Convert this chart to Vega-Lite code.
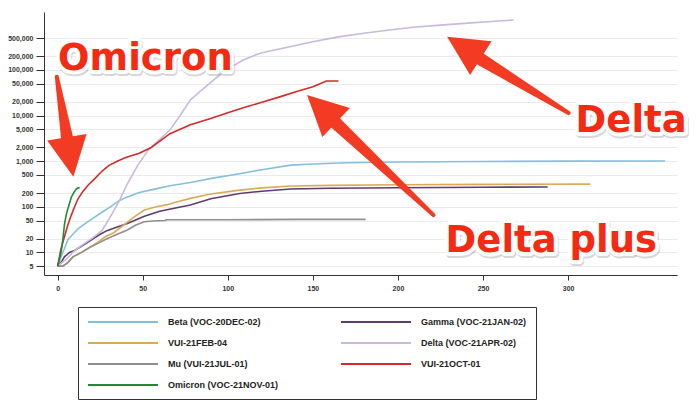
{
  "$schema": "https://vega.github.io/schema/vega-lite/v6.json",
  "width": 633,
  "height": 263,
  "autosize": {"type": "none"},
  "padding": {"left": 44, "top": 12, "right": 23, "bottom": 129},
  "background": "white",
  "config": {"view": {"stroke": null}, "font": "Liberation Sans"},
  "datasets": {
    "cases": [
      {"variant": "Beta (VOC-20DEC-02)", "day": 0, "cases": 5},
      {"variant": "Beta (VOC-20DEC-02)", "day": 2, "cases": 8},
      {"variant": "Beta (VOC-20DEC-02)", "day": 4, "cases": 12},
      {"variant": "Beta (VOC-20DEC-02)", "day": 6, "cases": 19},
      {"variant": "Beta (VOC-20DEC-02)", "day": 9, "cases": 25},
      {"variant": "Beta (VOC-20DEC-02)", "day": 12, "cases": 33},
      {"variant": "Beta (VOC-20DEC-02)", "day": 17, "cases": 45},
      {"variant": "Beta (VOC-20DEC-02)", "day": 22, "cases": 60},
      {"variant": "Beta (VOC-20DEC-02)", "day": 27, "cases": 80},
      {"variant": "Beta (VOC-20DEC-02)", "day": 31, "cases": 100},
      {"variant": "Beta (VOC-20DEC-02)", "day": 36, "cases": 135},
      {"variant": "Beta (VOC-20DEC-02)", "day": 41, "cases": 165},
      {"variant": "Beta (VOC-20DEC-02)", "day": 48, "cases": 205},
      {"variant": "Beta (VOC-20DEC-02)", "day": 55, "cases": 235},
      {"variant": "Beta (VOC-20DEC-02)", "day": 66, "cases": 290},
      {"variant": "Beta (VOC-20DEC-02)", "day": 78, "cases": 340},
      {"variant": "Beta (VOC-20DEC-02)", "day": 92, "cases": 430},
      {"variant": "Beta (VOC-20DEC-02)", "day": 107, "cases": 530},
      {"variant": "Beta (VOC-20DEC-02)", "day": 120, "cases": 650},
      {"variant": "Beta (VOC-20DEC-02)", "day": 137, "cases": 820},
      {"variant": "Beta (VOC-20DEC-02)", "day": 150, "cases": 870},
      {"variant": "Beta (VOC-20DEC-02)", "day": 170, "cases": 920},
      {"variant": "Beta (VOC-20DEC-02)", "day": 200, "cases": 960},
      {"variant": "Beta (VOC-20DEC-02)", "day": 250, "cases": 985},
      {"variant": "Beta (VOC-20DEC-02)", "day": 300, "cases": 1000},
      {"variant": "Beta (VOC-20DEC-02)", "day": 357, "cases": 1010},

      {"variant": "Gamma (VOC-21JAN-02)", "day": 0, "cases": 5},
      {"variant": "Gamma (VOC-21JAN-02)", "day": 2, "cases": 6},
      {"variant": "Gamma (VOC-21JAN-02)", "day": 4, "cases": 8},
      {"variant": "Gamma (VOC-21JAN-02)", "day": 7, "cases": 10},
      {"variant": "Gamma (VOC-21JAN-02)", "day": 10, "cases": 11},
      {"variant": "Gamma (VOC-21JAN-02)", "day": 13, "cases": 13},
      {"variant": "Gamma (VOC-21JAN-02)", "day": 17, "cases": 16},
      {"variant": "Gamma (VOC-21JAN-02)", "day": 21, "cases": 20},
      {"variant": "Gamma (VOC-21JAN-02)", "day": 25, "cases": 25},
      {"variant": "Gamma (VOC-21JAN-02)", "day": 29, "cases": 30},
      {"variant": "Gamma (VOC-21JAN-02)", "day": 33, "cases": 34},
      {"variant": "Gamma (VOC-21JAN-02)", "day": 41, "cases": 43},
      {"variant": "Gamma (VOC-21JAN-02)", "day": 51, "cases": 62},
      {"variant": "Gamma (VOC-21JAN-02)", "day": 60, "cases": 80},
      {"variant": "Gamma (VOC-21JAN-02)", "day": 70, "cases": 95},
      {"variant": "Gamma (VOC-21JAN-02)", "day": 78, "cases": 109},
      {"variant": "Gamma (VOC-21JAN-02)", "day": 90, "cases": 150},
      {"variant": "Gamma (VOC-21JAN-02)", "day": 107, "cases": 196},
      {"variant": "Gamma (VOC-21JAN-02)", "day": 120, "cases": 220},
      {"variant": "Gamma (VOC-21JAN-02)", "day": 137, "cases": 245},
      {"variant": "Gamma (VOC-21JAN-02)", "day": 160, "cases": 255},
      {"variant": "Gamma (VOC-21JAN-02)", "day": 200, "cases": 262},
      {"variant": "Gamma (VOC-21JAN-02)", "day": 250, "cases": 268},
      {"variant": "Gamma (VOC-21JAN-02)", "day": 288, "cases": 272},

      {"variant": "VUI-21FEB-04", "day": 0, "cases": 5},
      {"variant": "VUI-21FEB-04", "day": 3, "cases": 5},
      {"variant": "VUI-21FEB-04", "day": 6, "cases": 6},
      {"variant": "VUI-21FEB-04", "day": 9, "cases": 8},
      {"variant": "VUI-21FEB-04", "day": 14, "cases": 10},
      {"variant": "VUI-21FEB-04", "day": 19, "cases": 13},
      {"variant": "VUI-21FEB-04", "day": 24, "cases": 17},
      {"variant": "VUI-21FEB-04", "day": 28, "cases": 22},
      {"variant": "VUI-21FEB-04", "day": 33, "cases": 27},
      {"variant": "VUI-21FEB-04", "day": 39, "cases": 40},
      {"variant": "VUI-21FEB-04", "day": 45, "cases": 60},
      {"variant": "VUI-21FEB-04", "day": 51, "cases": 85},
      {"variant": "VUI-21FEB-04", "day": 58, "cases": 100},
      {"variant": "VUI-21FEB-04", "day": 64, "cases": 110},
      {"variant": "VUI-21FEB-04", "day": 71, "cases": 130},
      {"variant": "VUI-21FEB-04", "day": 78, "cases": 153},
      {"variant": "VUI-21FEB-04", "day": 90, "cases": 190},
      {"variant": "VUI-21FEB-04", "day": 107, "cases": 232},
      {"variant": "VUI-21FEB-04", "day": 120, "cases": 260},
      {"variant": "VUI-21FEB-04", "day": 137, "cases": 285},
      {"variant": "VUI-21FEB-04", "day": 160, "cases": 295},
      {"variant": "VUI-21FEB-04", "day": 200, "cases": 305},
      {"variant": "VUI-21FEB-04", "day": 250, "cases": 310},
      {"variant": "VUI-21FEB-04", "day": 313, "cases": 314},

      {"variant": "Delta (VOC-21APR-02)", "day": 0, "cases": 5},
      {"variant": "Delta (VOC-21APR-02)", "day": 5, "cases": 7},
      {"variant": "Delta (VOC-21APR-02)", "day": 10, "cases": 11},
      {"variant": "Delta (VOC-21APR-02)", "day": 15, "cases": 15},
      {"variant": "Delta (VOC-21APR-02)", "day": 20, "cases": 20},
      {"variant": "Delta (VOC-21APR-02)", "day": 26, "cases": 30},
      {"variant": "Delta (VOC-21APR-02)", "day": 31, "cases": 60},
      {"variant": "Delta (VOC-21APR-02)", "day": 36, "cases": 130},
      {"variant": "Delta (VOC-21APR-02)", "day": 41, "cases": 320},
      {"variant": "Delta (VOC-21APR-02)", "day": 47, "cases": 800},
      {"variant": "Delta (VOC-21APR-02)", "day": 53, "cases": 1700},
      {"variant": "Delta (VOC-21APR-02)", "day": 60, "cases": 3000},
      {"variant": "Delta (VOC-21APR-02)", "day": 66, "cases": 4800},
      {"variant": "Delta (VOC-21APR-02)", "day": 72, "cases": 10000},
      {"variant": "Delta (VOC-21APR-02)", "day": 78, "cases": 22000},
      {"variant": "Delta (VOC-21APR-02)", "day": 86, "cases": 40000},
      {"variant": "Delta (VOC-21APR-02)", "day": 94, "cases": 71000},
      {"variant": "Delta (VOC-21APR-02)", "day": 102, "cases": 115000},
      {"variant": "Delta (VOC-21APR-02)", "day": 109, "cases": 165000},
      {"variant": "Delta (VOC-21APR-02)", "day": 119, "cases": 231000},
      {"variant": "Delta (VOC-21APR-02)", "day": 131, "cases": 290000},
      {"variant": "Delta (VOC-21APR-02)", "day": 150, "cases": 415000},
      {"variant": "Delta (VOC-21APR-02)", "day": 165, "cases": 530000},
      {"variant": "Delta (VOC-21APR-02)", "day": 180, "cases": 634000},
      {"variant": "Delta (VOC-21APR-02)", "day": 195, "cases": 750000},
      {"variant": "Delta (VOC-21APR-02)", "day": 209, "cases": 859000},
      {"variant": "Delta (VOC-21APR-02)", "day": 225, "cases": 960000},
      {"variant": "Delta (VOC-21APR-02)", "day": 239, "cases": 1050000},
      {"variant": "Delta (VOC-21APR-02)", "day": 255, "cases": 1150000},
      {"variant": "Delta (VOC-21APR-02)", "day": 268, "cases": 1240000},

      {"variant": "Mu (VUI-21JUL-01)", "day": 0, "cases": 5},
      {"variant": "Mu (VUI-21JUL-01)", "day": 3, "cases": 5},
      {"variant": "Mu (VUI-21JUL-01)", "day": 6, "cases": 6},
      {"variant": "Mu (VUI-21JUL-01)", "day": 9, "cases": 8},
      {"variant": "Mu (VUI-21JUL-01)", "day": 14, "cases": 10},
      {"variant": "Mu (VUI-21JUL-01)", "day": 19, "cases": 13},
      {"variant": "Mu (VUI-21JUL-01)", "day": 24, "cases": 16},
      {"variant": "Mu (VUI-21JUL-01)", "day": 29, "cases": 20},
      {"variant": "Mu (VUI-21JUL-01)", "day": 35, "cases": 25},
      {"variant": "Mu (VUI-21JUL-01)", "day": 41, "cases": 31},
      {"variant": "Mu (VUI-21JUL-01)", "day": 46, "cases": 40},
      {"variant": "Mu (VUI-21JUL-01)", "day": 51, "cases": 47},
      {"variant": "Mu (VUI-21JUL-01)", "day": 56, "cases": 49},
      {"variant": "Mu (VUI-21JUL-01)", "day": 63, "cases": 50},
      {"variant": "Mu (VUI-21JUL-01)", "day": 64, "cases": 52},
      {"variant": "Mu (VUI-21JUL-01)", "day": 100, "cases": 52},
      {"variant": "Mu (VUI-21JUL-01)", "day": 140, "cases": 53},
      {"variant": "Mu (VUI-21JUL-01)", "day": 181, "cases": 53},

      {"variant": "VUI-21OCT-01", "day": 0, "cases": 5},
      {"variant": "VUI-21OCT-01", "day": 2, "cases": 12},
      {"variant": "VUI-21OCT-01", "day": 4, "cases": 22},
      {"variant": "VUI-21OCT-01", "day": 6, "cases": 40},
      {"variant": "VUI-21OCT-01", "day": 8, "cases": 65},
      {"variant": "VUI-21OCT-01", "day": 10, "cases": 100},
      {"variant": "VUI-21OCT-01", "day": 12, "cases": 150},
      {"variant": "VUI-21OCT-01", "day": 15, "cases": 220},
      {"variant": "VUI-21OCT-01", "day": 18, "cases": 300},
      {"variant": "VUI-21OCT-01", "day": 22, "cases": 420},
      {"variant": "VUI-21OCT-01", "day": 26, "cases": 600},
      {"variant": "VUI-21OCT-01", "day": 30, "cases": 800},
      {"variant": "VUI-21OCT-01", "day": 35, "cases": 1000},
      {"variant": "VUI-21OCT-01", "day": 40, "cases": 1200},
      {"variant": "VUI-21OCT-01", "day": 48, "cases": 1500},
      {"variant": "VUI-21OCT-01", "day": 55, "cases": 2000},
      {"variant": "VUI-21OCT-01", "day": 66, "cases": 4000},
      {"variant": "VUI-21OCT-01", "day": 78, "cases": 6300},
      {"variant": "VUI-21OCT-01", "day": 90, "cases": 8600},
      {"variant": "VUI-21OCT-01", "day": 100, "cases": 11500},
      {"variant": "VUI-21OCT-01", "day": 111, "cases": 15600},
      {"variant": "VUI-21OCT-01", "day": 121, "cases": 20000},
      {"variant": "VUI-21OCT-01", "day": 131, "cases": 26000},
      {"variant": "VUI-21OCT-01", "day": 141, "cases": 34000},
      {"variant": "VUI-21OCT-01", "day": 150, "cases": 43000},
      {"variant": "VUI-21OCT-01", "day": 158, "cases": 57000},
      {"variant": "VUI-21OCT-01", "day": 165, "cases": 57000},

      {"variant": "Omicron (VOC-21NOV-01)", "day": 0, "cases": 5},
      {"variant": "Omicron (VOC-21NOV-01)", "day": 1, "cases": 7},
      {"variant": "Omicron (VOC-21NOV-01)", "day": 2, "cases": 10},
      {"variant": "Omicron (VOC-21NOV-01)", "day": 3, "cases": 18},
      {"variant": "Omicron (VOC-21NOV-01)", "day": 4, "cases": 40},
      {"variant": "Omicron (VOC-21NOV-01)", "day": 5, "cases": 65},
      {"variant": "Omicron (VOC-21NOV-01)", "day": 6, "cases": 90},
      {"variant": "Omicron (VOC-21NOV-01)", "day": 7, "cases": 120},
      {"variant": "Omicron (VOC-21NOV-01)", "day": 8, "cases": 160},
      {"variant": "Omicron (VOC-21NOV-01)", "day": 9, "cases": 190},
      {"variant": "Omicron (VOC-21NOV-01)", "day": 10, "cases": 220},
      {"variant": "Omicron (VOC-21NOV-01)", "day": 11, "cases": 245},
      {"variant": "Omicron (VOC-21NOV-01)", "day": 12, "cases": 260},
      {"variant": "Omicron (VOC-21NOV-01)", "day": 13, "cases": 262}
    ],
    "arrows": [
      {"arrow": "Omicron", "part": "tail", "day": -0.47, "cases": 70800},
      {"arrow": "Omicron", "part": "neck", "day": 6.24, "cases": 2296},
      {"arrow": "Delta", "part": "tail", "day": 300.3, "cases": 11330},
      {"arrow": "Delta", "part": "neck", "day": 246.5, "cases": 191500},
      {"arrow": "Delta plus", "part": "tail", "day": 220.9, "cases": 65.6},
      {"arrow": "Delta plus", "part": "neck", "day": 162.1, "cases": 7640}
    ],
    "tips": [
      {"arrow": "Omicron", "day": 9.29, "cases": 454},
      {"arrow": "Delta", "day": 228.9, "cases": 534500},
      {"arrow": "Delta plus", "day": 146.6, "cases": 28120}
    ],
    "labels": [
      {"label": "Omicron", "day": 0.3, "cases": 99400},
      {"label": "Delta", "day": 304.4, "cases": 4400},
      {"label": "Delta plus", "day": 228, "cases": 10.3}
    ]
  },
  "layer": [
    {
      "data": {"name": "cases"},
      "mark": {"type": "line", "strokeWidth": 1.6},
      "encoding": {
        "x": {
          "field": "day", "type": "quantitative",
          "scale": {"domain": [-8, 364], "nice": false, "zero": false},
          "axis": {
            "values": [0, 50, 100, 150, 200, 250, 300], "grid": false, "title": null,
            "domainColor": "#333", "tickColor": "#333", "tickSize": 5,
            "labelFontSize": 7, "labelFontWeight": "bold", "labelColor": "#333", "labelPadding": 4
          }
        },
        "y": {
          "field": "cases", "type": "quantitative",
          "scale": {"type": "log", "domain": [3.2, 1860000], "nice": false},
          "axis": {
            "values": [5, 10, 20, 50, 100, 200, 500, 1000, 2000, 5000, 10000, 20000, 50000, 100000, 200000, 500000],
            "format": ",d", "grid": true, "gridColor": "#ebebeb", "title": null,
            "domainColor": "#333", "tickColor": "#333", "tickSize": 8,
            "labelFontSize": 7, "labelFontWeight": "bold", "labelColor": "#333", "labelPadding": 3
          }
        },
        "color": {
          "field": "variant", "type": "nominal",
          "scale": {
            "domain": ["Beta (VOC-20DEC-02)", "VUI-21FEB-04", "Mu (VUI-21JUL-01)", "Omicron (VOC-21NOV-01)", "Gamma (VOC-21JAN-02)", "Delta (VOC-21APR-02)", "VUI-21OCT-01"],
            "range": ["#82c0dc", "#dcaa55", "#8f8f8f", "#23883a", "#5e3c6e", "#c9b9dd", "#d62a2a"]
          },
          "legend": {
            "title": null, "orient": "none", "legendX": 34, "legendY": 295, "columns": 2,
            "symbolType": "M-7,0H7", "symbolSize": 100, "symbolStrokeWidth": 2, "symbolOffset": 30,
            "labelFontSize": 9, "labelFontWeight": "bold", "labelColor": "#222", "labelOffset": 39,
            "labelExpr": "datum.label + '\u00a0\u00a0\u00a0\u00a0\u00a0\u00a0\u00a0\u00a0\u00a0\u00a0\u00a0\u00a0\u00a0'",
            "strokeColor": "#333", "padding": 9, "columnPadding": 58, "rowPadding": 10
          }
        }
      }
    },
    {
      "data": {"name": "arrows"},
      "mark": {"type": "trail", "color": "#f33a22"},
      "encoding": {
        "x": {"field": "day", "type": "quantitative"},
        "y": {"field": "cases", "type": "quantitative"},
        "detail": {"field": "arrow"},
        "size": {"field": "part", "type": "ordinal", "scale": {"domain": ["tail", "neck"], "range": [4, 13]}, "legend": null}
      }
    },
    {
      "data": {"name": "tips"},
      "transform": [{"filter": "datum.arrow === 'Omicron'"}],
      "mark": {"type": "point", "shape": "M0,0L-1,2L1,2Z", "filled": true, "size": 1600, "color": "#f33a22", "opacity": 1, "angle": 170.6},
      "encoding": {"x": {"field": "day", "type": "quantitative"}, "y": {"field": "cases", "type": "quantitative"}}
    },
    {
      "data": {"name": "tips"},
      "transform": [{"filter": "datum.arrow === 'Delta'"}],
      "mark": {"type": "point", "shape": "M0,0L-1,2L1,2Z", "filled": true, "size": 1600, "color": "#f33a22", "opacity": 1, "angle": 302.5},
      "encoding": {"x": {"field": "day", "type": "quantitative"}, "y": {"field": "cases", "type": "quantitative"}}
    },
    {
      "data": {"name": "tips"},
      "transform": [{"filter": "datum.arrow === 'Delta plus'"}],
      "mark": {"type": "point", "shape": "M0,0L-1,2L1,2Z", "filled": true, "size": 1600, "color": "#f33a22", "opacity": 1, "angle": 313.4},
      "encoding": {"x": {"field": "day", "type": "quantitative"}, "y": {"field": "cases", "type": "quantitative"}}
    },
    {
      "data": {"name": "labels"},
      "mark": {"type": "text", "align": "left", "baseline": "alphabetic", "font": "DejaVu Sans", "fontWeight": "bold", "fontSize": 37, "dy": 2, "dx": 1, "fill": "#000", "fillOpacity": 0.25, "stroke": "#000", "strokeOpacity": 0.18, "strokeWidth": 8, "strokeJoin": "round"},
      "encoding": {"x": {"field": "day", "type": "quantitative"}, "y": {"field": "cases", "type": "quantitative"}, "text": {"field": "label"}}
    },
    {
      "data": {"name": "labels"},
      "mark": {"type": "text", "align": "left", "baseline": "alphabetic", "font": "DejaVu Sans", "fontWeight": "bold", "fontSize": 37, "fill": "#ffffff", "stroke": "#ffffff", "strokeWidth": 8, "strokeJoin": "round"},
      "encoding": {"x": {"field": "day", "type": "quantitative"}, "y": {"field": "cases", "type": "quantitative"}, "text": {"field": "label"}}
    },
    {
      "data": {"name": "labels"},
      "mark": {"type": "text", "align": "left", "baseline": "alphabetic", "font": "DejaVu Sans", "fontWeight": "bold", "fontSize": 37, "fill": "#f52a12"},
      "encoding": {"x": {"field": "day", "type": "quantitative"}, "y": {"field": "cases", "type": "quantitative"}, "text": {"field": "label"}}
    }
  ]
}
